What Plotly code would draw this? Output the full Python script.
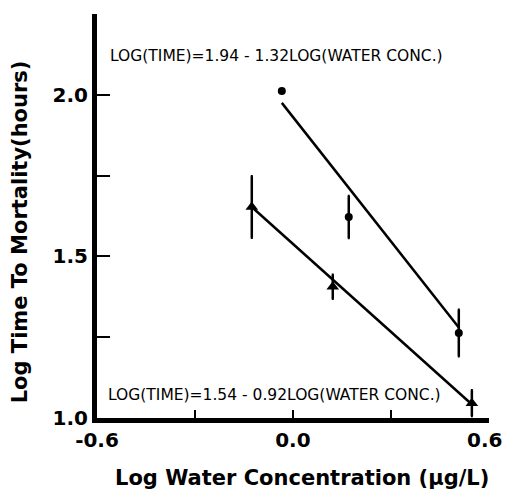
import plotly.graph_objects as go

# Circle series (upper regression)
circ_x = [-0.034, 0.171, 0.508]
circ_y = [2.012, 1.622, 1.263]
circ_err = [0.0, 0.065, 0.072]

# Triangle series (lower regression)
tri_x = [-0.126, 0.122, 0.548]
tri_y = [1.653, 1.406, 1.046]
tri_err = [0.095, 0.037, 0.04]

# Regression lines (endpoints)
line1_x = [-0.034, 0.508]
line1_y = [1.975, 1.28]
line2_x = [-0.126, 0.545]
line2_y = [1.653, 1.045]

eq1 = "LOG(TIME)=1.94 - 1.32LOG(WATER CONC.)"
eq2 = "LOG(TIME)=1.54 - 0.92LOG(WATER CONC.)"
x_title = "Log Water Concentration (μg/L)"
y_title = "Log Time To Mortality(hours)"

x_ticks = [-0.6, -0.3, 0.0, 0.3, 0.6]
x_ticktext = ["-0.6", "", "0.0", "", ""]
x_last_label = "0.6"
y_ticks = [1.0, 1.25, 1.5, 1.75, 2.0]
y_ticktext = ["1.0", "", "1.5", "", "2.0"]

fig = go.Figure()
fig.add_trace(go.Scatter(x=line1_x, y=line1_y, mode="lines",
                         line=dict(color="black", width=2.5), showlegend=False))
fig.add_trace(go.Scatter(x=line2_x, y=line2_y, mode="lines",
                         line=dict(color="black", width=2.5), showlegend=False))
fig.add_trace(go.Scatter(x=circ_x, y=circ_y, mode="markers",
                         marker=dict(symbol="circle", size=8, color="black"),
                         error_y=dict(type="data", array=circ_err, visible=True,
                                      color="black", thickness=2.5, width=1),
                         showlegend=False))
fig.add_trace(go.Scatter(x=tri_x, y=tri_y, mode="markers",
                         marker=dict(symbol="triangle-up", size=11, color="black"),
                         error_y=dict(type="data", array=tri_err, visible=True,
                                      color="black", thickness=2.5, width=1),
                         showlegend=False))

font_bold = "DejaVu Sans"
tick_font = dict(family=font_bold, size=20, color="black", weight="bold")
title_font = dict(family=font_bold, size=21, color="black", weight="bold")

fig.update_layout(
    width=505, height=495,
    margin=dict(l=97, r=16, t=14, b=77),
    paper_bgcolor="white", plot_bgcolor="white",
    xaxis=dict(range=[-0.6, 0.6005], tickvals=x_ticks, ticktext=x_ticktext,
               ticks="inside", ticklen=8, tickwidth=2, tickcolor="black",
               automargin=False,
               showline=True, linecolor="black", linewidth=5,
               showgrid=False, zeroline=False, tickfont=tick_font),
    yaxis=dict(range=[1.0, 2.25], tickvals=y_ticks, ticktext=y_ticktext,
               ticks="inside", ticklen=13, tickwidth=2, tickcolor="black",
               automargin=False,
               showline=True, linecolor="black", linewidth=5,
               showgrid=False, zeroline=False, tickfont=tick_font),
    annotations=[
        dict(x=-0.6, y=2.12, xref="x", yref="y", text=eq1, showarrow=False,
             xanchor="left", xshift=11,
             font=dict(family="DejaVu Sans", size=15.5, color="black")),
        dict(x=-0.6, y=1.07, xref="x", yref="y", text=eq2, showarrow=False,
             xanchor="left", xshift=9,
             font=dict(family="DejaVu Sans", size=15.5, color="black")),
        dict(x=0.6, y=1.0, xref="x", yref="y", text=x_last_label, showarrow=False,
             xanchor="center", yanchor="middle", xshift=-4, yshift=-22,
             font=tick_font),
        dict(x=0.523, y=-0.1485, xref="paper", yref="paper", text=x_title,
             showarrow=False, xanchor="center", yanchor="middle", font=title_font),
        dict(x=-0.196, y=0.46, xref="paper", yref="paper", text=y_title,
             showarrow=False, xanchor="center", yanchor="middle", textangle=-90,
             font=title_font),
    ],
)

fig.write_html("out.html")
